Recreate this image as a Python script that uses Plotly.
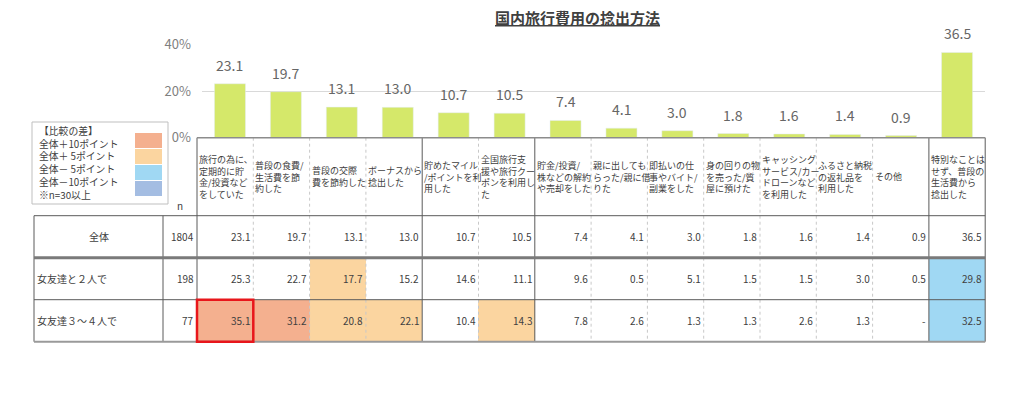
import plotly.graph_objects as go

# ---------------- data ----------------
categories = [
    "旅行の為に、<br>定期的に貯<br>金/投資など<br>をしていた",
    "普段の食費/<br>生活費を節<br>約した",
    "普段の交際<br>費を節約した",
    "ボーナスから<br>捻出した",
    "貯めたマイル<br>/ポイントを利<br>用した",
    "全国旅行支<br>援や旅行クー<br>ポンを利用し<br>た",
    "貯金/投資/<br>株などの解約<br>や売却をした",
    "親に出しても<br>らった/親に借<br>りた",
    "即払いの仕<br>事やバイト/<br>副業をした",
    "身の回りの物<br>を売った/質<br>屋に預けた",
    "キャッシング<br>サービス/カー<br>ドローンなど<br>を利用した",
    "ふるさと納税<br>の返礼品を<br>利用した",
    "その他",
    "特別なことは<br>せず、普段の<br>生活費から<br>捻出した",
]
overall = [23.1, 19.7, 13.1, 13.0, 10.7, 10.5, 7.4, 4.1, 3.0, 1.8, 1.6, 1.4, 0.9, 36.5]
two_people = [25.3, 22.7, 17.7, 15.2, 14.6, 11.1, 9.6, 0.5, 5.1, 1.5, 1.5, 3.0, 0.5, 29.8]
three_four = [35.1, 31.2, 20.8, 22.1, 10.4, 14.3, 7.8, 2.6, 1.3, 1.3, 2.6, 1.3, None, 32.5]
row_labels = ["全体", "女友達と２人で", "女友達３～４人で"]
row_n = [1804, 198, 77]
# difference codes: 0 none, 1 = +10pt, 2 = +5pt, 3 = -5pt, 4 = -10pt
diff_codes = [
    [0, 0, 0, 0, 0, 0, 0, 0, 0, 0, 0, 0, 0, 0],
    [0, 0, 2, 0, 0, 0, 0, 0, 0, 0, 0, 0, 0, 3],
    [1, 1, 2, 2, 0, 2, 0, 0, 0, 0, 0, 0, 0, 3],
]
highlight_cell = (2, 0)
legend_title = "【比較の差】"
legend_items = ["全体＋10ポイント", "全体＋ 5ポイント", "全体－ 5ポイント", "全体－10ポイント"]
legend_note = "※n=30以上"
y_ticks = [0, 20, 40]
title = "国内旅行費用の捻出方法"

# ---------------- styles ----------------
W, H = 1024, 409
FONT = "Noto Sans CJK JP"
BAR_COLOR = "#D5E86A"
CODE_COLORS = ["#FFFFFF", "#F4B08F", "#FBD5A0", "#A0D8F3", "#A4BDE2"]
DARK = "#5a5a5a"
LIGHT = "#c8c8c8"
TXT = "#404040"

def px_x(p):
    return p / W

def px_y(p):
    return 1 - p / H

# table geometry (x2 unit = one column, y2 unit = one data row)
COL_W, TAB_X0 = 56.3, 197.0
ROW_H, TAB_Y0 = 42.0, 215.7
lab_left = (34 - TAB_X0) / COL_W
n_left = (163 - TAB_X0) / COL_W
head_top = (137.7 - TAB_Y0) / ROW_H
ncol = len(overall)
nrow = len(row_labels)
rows = [overall, two_people, three_four]

fig = go.Figure()

# bars
fig.add_trace(go.Bar(
    x=list(range(ncol)), y=overall, marker_color=BAR_COLOR, width=0.555,
    hoverinfo="skip", xaxis="x", yaxis="y", showlegend=False,
))

# table cell colours
nc = len(CODE_COLORS)
cs = []
for k, c in enumerate(CODE_COLORS):
    cs.append([k / nc, c])
    cs.append([(k + 1) / nc, c])
fig.add_trace(go.Heatmap(
    x=list(range(ncol + 1)), y=list(range(nrow + 1)), z=diff_codes,
    zmin=-0.5, zmax=nc - 0.5, colorscale=cs, showscale=False,
    hoverinfo="skip", xaxis="x2", yaxis="y2",
))

ann = []
shapes = []

# bar value labels
for i, v in enumerate(overall):
    ann.append(dict(x=i, y=v, xref="x", yref="y", text=f"{v:.1f}", showarrow=False,
                    yanchor="middle", yshift=19,
                    font=dict(family=FONT, size=14, color="#666666")))

# header texts
for i, t in enumerate(categories):
    ann.append(dict(x=i, y=head_top / 2, xref="x2", yref="y2", text=t, showarrow=False,
                    xanchor="left", yanchor="middle", align="left", xshift=0,
                    font=dict(family=FONT, size=9, color=TXT)))

ann.append(dict(x=n_left / 2, y=0, xref="x2", yref="y2", text="n", showarrow=False,
                yanchor="bottom", yshift=1, font=dict(family=FONT, size=10, color=TXT)))

# table body texts
for r, vals in enumerate(rows):
    yc = r + 0.5
    if r == 0:
        ann.append(dict(x=(lab_left + n_left) / 2, y=yc, xref="x2", yref="y2", text=row_labels[r],
                        showarrow=False, yanchor="middle",
                        font=dict(family=FONT, size=10, color=TXT)))
    else:
        ann.append(dict(x=lab_left, y=yc, xref="x2", yref="y2", text=row_labels[r],
                        showarrow=False, xanchor="left", yanchor="middle", xshift=1,
                        font=dict(family=FONT, size=10, color=TXT)))
    ann.append(dict(x=0, y=yc, xref="x2", yref="y2", text=str(row_n[r]), showarrow=False,
                    xanchor="right", yanchor="middle", xshift=-1,
                    font=dict(family=FONT, size=10, color=TXT)))
    for i, v in enumerate(vals):
        ann.append(dict(x=i + 1, y=yc, xref="x2", yref="y2",
                        text="-" if v is None else f"{v:.1f}", showarrow=False,
                        xanchor="right", yanchor="middle", xshift=-1,
                        font=dict(family=FONT, size=10, color=TXT)))

# table lines
def hline(y, x0, x1, color, width, dash="solid"):
    shapes.append(dict(type="line", xref="x2", yref="y2", x0=x0, x1=x1, y0=y, y1=y,
                       line=dict(color=color, width=width, dash=dash)))

def vline(x, y0, y1, color, width, dash="solid"):
    shapes.append(dict(type="line", xref="x2", yref="y2", x0=x, x1=x, y0=y0, y1=y1,
                       line=dict(color=color, width=width, dash=dash)))

dark_bounds = {0, 4, 6, 13, 14}
for b in range(ncol + 1):
    if b in dark_bounds:
        vline(b, head_top, nrow, DARK, 1)
    else:
        vline(b, head_top, nrow, LIGHT, 1, "dot")
vline(lab_left, 0, nrow, DARK, 1)
vline(n_left, 0, nrow, DARK, 1)

hline(head_top, 0, ncol, "#8c8c8c", 1.5)
hline(0, lab_left, ncol, DARK, 1)
hline(1, lab_left, ncol, "#7a7a7a", 3)
hline(2, lab_left, ncol, DARK, 1)
hline(3, lab_left, ncol, "#9a9a9a", 2)

hr, hc = highlight_cell
shapes.append(dict(type="rect", xref="x2", yref="y2", x0=hc, x1=hc + 1, y0=hr, y1=hr + 1,
                   line=dict(color="#E8161B", width=2.5)))

# legend box
shapes.append(dict(type="rect", xref="paper", yref="paper", x0=px_x(32), x1=px_x(168),
                   y0=px_y(204), y1=px_y(122), line=dict(color="#bfbfbf", width=1),
                   fillcolor="rgba(0,0,0,0)"))
legend_text = "<br>".join([legend_title] + legend_items + [legend_note])
ann.append(dict(x=px_x(37), y=px_y(162.5), xref="paper", yref="paper", text=legend_text,
                showarrow=False, xanchor="left", yanchor="middle", align="left",
                font=dict(family=FONT, size=9.8, color=TXT)))
for k in range(len(legend_items)):
    y0 = 133 + k * 16
    shapes.append(dict(type="rect", xref="paper", yref="paper", x0=px_x(135), x1=px_x(162),
                       y0=px_y(y0 + 15), y1=px_y(y0), line=dict(width=0),
                       fillcolor=CODE_COLORS[k + 1]))

# title
ann.append(dict(x=px_x(577), y=px_y(17), xref="paper", yref="paper",
                text=f"<b><u>{title}</u></b>", showarrow=False,
                xanchor="center", yanchor="middle",
                font=dict(family=FONT, size=15, color=TXT)))

fig.update_layout(
    width=W, height=H, margin=dict(l=0, r=0, t=0, b=0, pad=0, autoexpand=False),
    paper_bgcolor="white", plot_bgcolor="rgba(0,0,0,0)",
    showlegend=False, font=dict(family=FONT),
    xaxis=dict(domain=[px_x(202), px_x(985)], range=[-0.5, ncol - 0.5], visible=False,
               fixedrange=True, automargin=False),
    yaxis=dict(domain=[px_y(137.7), px_y(44.3)], range=[0, 40], tickvals=y_ticks,
               ticktext=[f"{v}%" for v in y_ticks], showgrid=True, gridcolor="#d9d9d9",
               gridwidth=1, zeroline=False, showline=False, ticks="",
               ticklabelstandoff=10, automargin=False,
               tickfont=dict(family=FONT, size=13, color="#7f7f7f"), fixedrange=True),
    xaxis2=dict(domain=[0, 1], range=[-TAB_X0 / COL_W, (W - TAB_X0) / COL_W], visible=False,
                anchor="y2", fixedrange=True, automargin=False),
    yaxis2=dict(domain=[0, 1], range=[(H - TAB_Y0) / ROW_H, -TAB_Y0 / ROW_H], visible=False,
                anchor="x2", fixedrange=True, automargin=False),
    annotations=ann, shapes=shapes,
)

fig.write_html("out.html", config={"displayModeBar": False})
